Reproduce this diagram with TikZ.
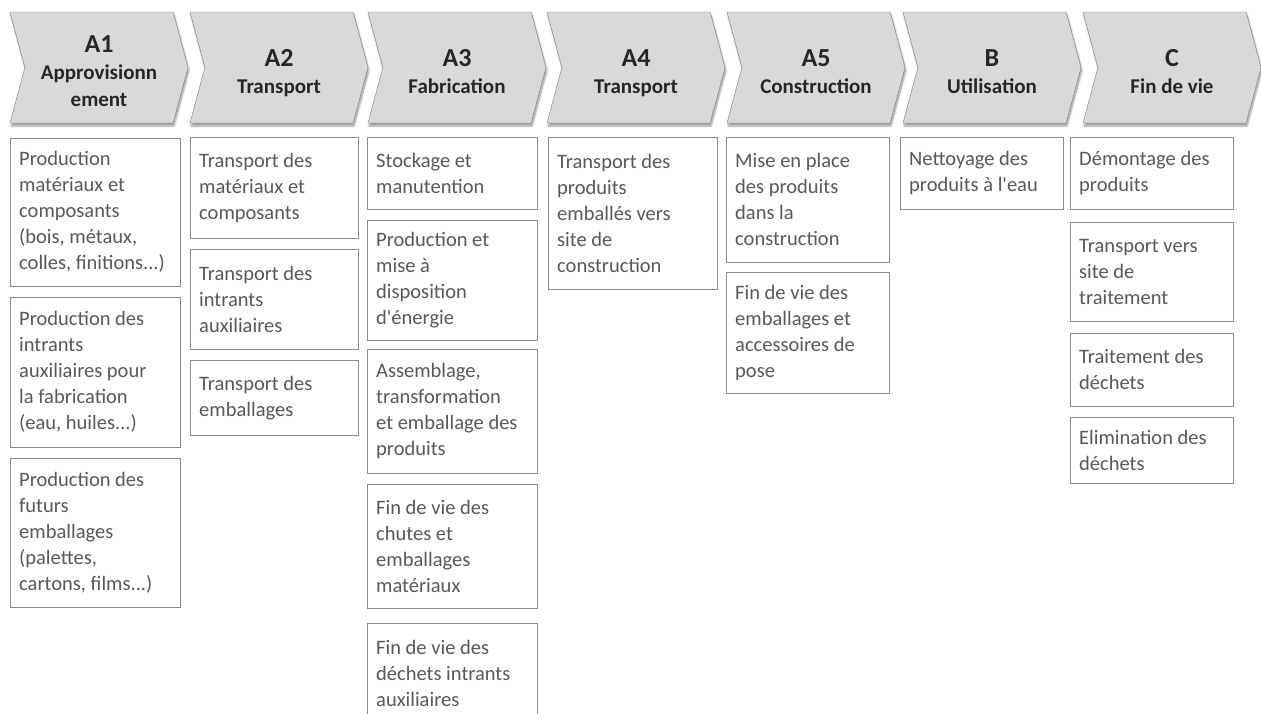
\documentclass[tikz,border=0pt]{standalone}
\usepackage{fontspec}
\setmainfont{Carlito}[Ligatures=TeXOff]
\usepackage{tikz}
\usetikzlibrary{shapes.symbols, shadows.blur}
\definecolor{stagefill}{HTML}{D9D9D9}
\definecolor{stageline}{HTML}{7F7F7F}
\definecolor{stagetext}{HTML}{262626}
\definecolor{boxline}{HTML}{8C8C8C}
\definecolor{boxtext}{HTML}{595959}
\tikzset{stage/.style={signal, signal from=west, signal to=east, signal pointer angle=150,
    draw=stageline, fill=stagefill, minimum width=178pt, minimum height=111pt, inner sep=0pt,
    blur shadow={shadow xshift=1pt, shadow yshift=-3pt, shadow blur steps=6, shadow opacity=40},
    align=center, text=stagetext, font=\bfseries\fontsize{21}{27}\selectfont},
  task/.style={rectangle, draw=boxline, fill=white, anchor=north west, align=flush left,
    inner xsep=9pt, inner ysep=4pt, text width=#1, text=boxtext, font=\fontsize{20.5}{26}\selectfont}}
\newcommand\stagename[2]{\rule{0pt}{33pt}{\fontsize{26}{27}\selectfont #1}\\#2\strut}

\begin{document}
\begin{tikzpicture}[x=1pt, y=-1pt]
\useasboundingbox (0,0) rectangle (1261,713);
%\draw[help lines] (0,0) grid[step=100] (1261,713);
\path (99,67.5) node(a1) [stage] {\stagename{A1}{Approvisionn\\ement}}
(279,67.5) node(a2) [stage] {\stagename{A2}{Transport}}
(457,67.5) node(a3) [stage] {\stagename{A3}{Fabrication}}
(636,67.5) node(a4) [stage] {\stagename{A4}{Transport}}
(816,67.5) node(a5) [stage] {\stagename{A5}{Construction}}
(992,67.5) node(b) [stage] {\stagename{B}{Utilisation}}
(1172,67.5) node(c) [stage] {\stagename{C}{Fin de vie}};

% A1 approvisionnement
\path (10,138) node(a1_mat) [task=152pt, minimum height=148pt] {Production\\matériaux et\\composants\\(bois, métaux,\\colles, finitions...)}
(10,297) node(a1_intr) [task=152pt, minimum height=150pt] {Production des\\intrants\\auxiliaires pour\\la fabrication\\(eau, huiles...)}
(10,458) node(a1_emb) [task=152pt, minimum height=149pt] {Production des\\futurs\\emballages\\(palettes,\\cartons, films...)};

% A2 transport
\path (190,137) node(a2_mat) [task=150pt, minimum height=101pt] {Transport des\\matériaux et\\composants}
(190,249) node(a2_intr) [task=150pt, minimum height=100pt] {Transport des\\intrants\\auxiliaires}
(190,360) node(a2_emb) [task=150pt, minimum height=75pt] {Transport des\\emballages};

% A3 fabrication
\path (367,137) node(a3_stock) [task=152pt, minimum height=72pt] {Stockage et\\manutention}
(367,220) node(a3_energ) [task=152pt, minimum height=120pt] {Production et\\mise à\\disposition\\d'énergie}
(367,349) node(a3_assem) [task=152pt, minimum height=124pt] {Assemblage,\\transformation\\et emballage des\\produits}
(367,484) node(a3_chute) [task=152pt, minimum height=124pt] {Fin de vie des\\chutes et\\emballages\\matériaux}
(367,623) node(a3_dech) [task=152pt, minimum height=101pt] {Fin de vie des\\déchets intrants\\auxiliaires};

% A4 transport
\path (548,137) node(a4_prod) [task=151pt, minimum height=152pt] {Transport des\\produits\\emballés vers\\site de\\construction};

% A5 construction
\path (726,137) node(a5_pose) [task=145pt, minimum height=125pt] {Mise en place\\des produits\\dans la\\construction}
(726,272) node(a5_emb) [task=145pt, minimum height=121pt] {Fin de vie des\\emballages et\\accessoires de\\pose};

% B utilisation
\path (900,137) node(b_net) [task=145pt, minimum height=72pt] {Nettoyage des\\produits à l'eau};

% C fin de vie
\path (1070,137) node(c_demont) [task=145pt, minimum height=72pt] {Démontage des\\produits}
(1070,222) node(c_transp) [task=145pt, minimum height=99pt] {Transport vers\\site de\\traitement}
(1070,333) node(c_trait) [task=145pt, minimum height=73pt] {Traitement des\\déchets}
(1070,417) node(c_elim) [task=145pt, minimum height=66pt] {Elimination des\\déchets};
\end{tikzpicture}
\end{document}
